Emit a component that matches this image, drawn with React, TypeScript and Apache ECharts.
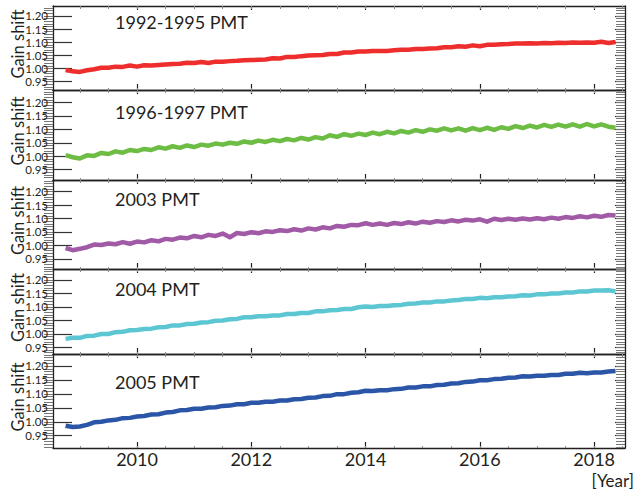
import React, { useEffect, useRef } from "react";
import * as echarts from "echarts";

// ---- data ----
const sampleStart = 2008.75;
const sampleStep = 0.125;
const panelLabels = ["1992-1995 PMT", "1996-1997 PMT", "2003 PMT", "2004 PMT", "2005 PMT"];
const panelColors = ["#ee2d2d", "#6dbd45", "#a15aa6", "#5cc6d3", "#2b55a6"];

const gain1992 = [
  0.994, 0.989, 0.987, 0.993, 0.997, 1.003, 1.003, 1.007, 1.006, 1.011,
  1.007, 1.012, 1.011, 1.013, 1.015, 1.017, 1.018, 1.022, 1.021, 1.025,
  1.021, 1.026, 1.026, 1.028, 1.029, 1.031, 1.032, 1.033, 1.034, 1.039,
  1.038, 1.044, 1.044, 1.047, 1.049, 1.050, 1.051, 1.055, 1.055, 1.061,
  1.061, 1.065, 1.065, 1.067, 1.067, 1.067, 1.069, 1.071, 1.071, 1.074,
  1.074, 1.076, 1.077, 1.081, 1.081, 1.085, 1.083, 1.088, 1.085, 1.090,
  1.090, 1.092, 1.093, 1.095, 1.095, 1.096, 1.095, 1.097, 1.096, 1.098,
  1.097, 1.099, 1.098, 1.099, 1.098, 1.102, 1.097, 1.101,
];
const gain1996 = [
  1.004, 0.996, 0.991, 1.003, 1.001, 1.012, 1.008, 1.018, 1.013, 1.023,
  1.019, 1.027, 1.023, 1.033, 1.028, 1.037, 1.031, 1.040, 1.034, 1.043,
  1.039, 1.047, 1.043, 1.050, 1.046, 1.055, 1.050, 1.058, 1.053, 1.061,
  1.056, 1.064, 1.059, 1.068, 1.062, 1.071, 1.066, 1.078, 1.072, 1.082,
  1.076, 1.084, 1.079, 1.088, 1.082, 1.091, 1.085, 1.094, 1.088, 1.097,
  1.091, 1.100, 1.095, 1.104, 1.096, 1.104, 1.095, 1.105, 1.097, 1.106,
  1.098, 1.108, 1.102, 1.112, 1.105, 1.114, 1.107, 1.117, 1.109, 1.118,
  1.110, 1.119, 1.110, 1.120, 1.111, 1.119, 1.110, 1.106,
];
const gain2003 = [
  0.990, 0.982, 0.987, 0.993, 1.003, 1.001, 1.007, 1.004, 1.012, 1.006,
  1.014, 1.011, 1.019, 1.015, 1.024, 1.021, 1.029, 1.026, 1.035, 1.030,
  1.039, 1.035, 1.044, 1.030, 1.046, 1.042, 1.049, 1.045, 1.052, 1.050,
  1.056, 1.053, 1.060, 1.055, 1.063, 1.059, 1.067, 1.063, 1.072, 1.069,
  1.076, 1.075, 1.082, 1.076, 1.081, 1.076, 1.083, 1.079, 1.086, 1.081,
  1.088, 1.084, 1.090, 1.087, 1.093, 1.089, 1.095, 1.092, 1.097, 1.088,
  1.099, 1.094, 1.099, 1.095, 1.100, 1.096, 1.101, 1.097, 1.103, 1.099,
  1.105, 1.102, 1.108, 1.104, 1.110, 1.106, 1.113, 1.111,
];
const gain2004 = [
  0.981, 0.985, 0.985, 0.992, 0.993, 0.999, 0.999, 1.006, 1.007, 1.013,
  1.014, 1.018, 1.019, 1.024, 1.025, 1.031, 1.031, 1.036, 1.037, 1.042,
  1.043, 1.048, 1.049, 1.054, 1.055, 1.061, 1.061, 1.065, 1.065, 1.068,
  1.068, 1.073, 1.073, 1.077, 1.077, 1.083, 1.083, 1.087, 1.088, 1.092,
  1.092, 1.098, 1.101, 1.099, 1.103, 1.103, 1.106, 1.107, 1.111, 1.112,
  1.116, 1.116, 1.120, 1.120, 1.123, 1.125, 1.129, 1.129, 1.133, 1.132,
  1.135, 1.135, 1.138, 1.139, 1.143, 1.142, 1.146, 1.146, 1.149, 1.149,
  1.153, 1.153, 1.157, 1.157, 1.160, 1.160, 1.161, 1.157,
];
const gain2005 = [
  0.986, 0.981, 0.983, 0.989, 0.998, 1.000, 1.005, 1.007, 1.013, 1.014,
  1.019, 1.021, 1.026, 1.027, 1.033, 1.035, 1.041, 1.042, 1.047, 1.047,
  1.051, 1.052, 1.057, 1.058, 1.063, 1.063, 1.068, 1.068, 1.072, 1.072,
  1.076, 1.076, 1.081, 1.082, 1.086, 1.087, 1.092, 1.093, 1.099, 1.099,
  1.104, 1.106, 1.111, 1.110, 1.113, 1.113, 1.117, 1.118, 1.123, 1.123,
  1.127, 1.127, 1.132, 1.133, 1.137, 1.138, 1.143, 1.144, 1.149, 1.149,
  1.153, 1.154, 1.158, 1.159, 1.163, 1.162, 1.165, 1.165, 1.168, 1.168,
  1.172, 1.172, 1.176, 1.174, 1.177, 1.177, 1.180, 1.182,
];
const panelSeries = [gain1992, gain1996, gain2003, gain2004, gain2005];

const yearTicks = [2010, 2012, 2014, 2016, 2018];
const halfYearTicks = [
  2009, 2009.5, 2010, 2010.5, 2011, 2011.5, 2012, 2012.5, 2013, 2013.5,
  2014, 2014.5, 2015, 2015.5, 2016, 2016.5, 2017, 2017.5, 2018, 2018.5,
];
const gainTicks = [0.95, 1.0, 1.05, 1.1, 1.15, 1.2];
const gainMinorTicks = [
  0.91, 0.92, 0.93, 0.94, 0.95, 0.96, 0.97, 0.98, 0.99, 1.0, 1.01, 1.02,
  1.03, 1.04, 1.05, 1.06, 1.07, 1.08, 1.09, 1.1, 1.11, 1.12, 1.13, 1.14,
  1.15, 1.16, 1.17, 1.18, 1.19, 1.2, 1.21, 1.22, 1.23, 1.24,
];

// ---- layout ----
const X_MIN = 2008.53;
const X_MAX = 2018.54;
const GRID_LEFT = 53;
const GRID_RIGHT = 11;
const panelsLayout = [
  { top: 6, height: 84, min: 0.918, max: 1.238, titleY: 21.5 },
  { top: 90, height: 90, min: 0.911, max: 1.247, titleY: 111.5 },
  { top: 180, height: 89, min: 0.912, max: 1.243, titleY: 199 },
  { top: 269, height: 85, min: 0.925, max: 1.24, titleY: 288.5 },
  { top: 354, height: 94, min: 0.906, max: 1.243, titleY: 381.5 },
];
const FONT = "Lato, 'Noto Sans', sans-serif";
const INK = "#231f20";

export default function App() {
  const ref = useRef<HTMLDivElement>(null);
  useEffect(() => {
    if (!ref.current) return;
    const chart = echarts.init(ref.current, undefined, { renderer: "svg" });
    const grid: any[] = [];
    const xAxis: any[] = [];
    const yAxis: any[] = [];
    const series: any[] = [];
    const graphic: any[] = [];

    panelsLayout.forEach((p, i) => {
      grid.push({
        left: GRID_LEFT,
        right: GRID_RIGHT,
        top: p.top,
        height: p.height,
        containLabel: false,
        outerBoundsMode: "none",
      });
      const xs = halfYearTicks.filter((v) => v >= X_MIN && v <= X_MAX);
      const baseX = {
        gridIndex: i,
        type: "value",
        min: X_MIN,
        max: X_MAX,
        splitLine: { show: false },
        axisLabel: { show: false },
      };
      // order matters: bottom, top, (top->bottom), (bottom->top)
      xAxis.push({
        ...baseX,
        position: "bottom",
        axisLine: { show: true, onZero: false, lineStyle: { color: INK, width: 1.3 } },
        axisTick: { show: true, inside: true, length: 6, customValues: yearTicks, lineStyle: { color: INK, width: 1.2 } },
        axisLabel: {
          show: i === panelsLayout.length - 1,
          customValues: yearTicks,
          formatter: (v: number) => String(Math.round(v)),
          fontSize: 18,
          fontFamily: FONT,
          color: INK,
          margin: 2,
        },
      });
      xAxis.push({
        ...baseX,
        position: "top",
        axisLine: { show: true, onZero: false, lineStyle: { color: INK, width: 1.3 } },
        axisTick: { show: true, inside: true, length: 4, customValues: yearTicks, lineStyle: { color: INK, width: 1.2 } },
      });
      xAxis.push({
        ...baseX,
        position: "top",
        axisLine: { show: false, onZero: false },
        axisTick: { show: true, inside: true, length: 3, customValues: xs, lineStyle: { color: "#8a8a8a", width: 1 } },
      });
      xAxis.push({
        ...baseX,
        position: "bottom",
        axisLine: { show: false, onZero: false },
        axisTick: { show: true, inside: true, length: 2, customValues: xs, lineStyle: { color: "#8a8a8a", width: 1 } },
      });

      const minor = gainMinorTicks.filter((v) => v >= p.min && v <= p.max);
      const baseY = {
        gridIndex: i,
        type: "value",
        min: p.min,
        max: p.max,
        splitLine: { show: false },
        axisLabel: { show: false },
      };
      // order: left, right, (right->left), (left->right)
      yAxis.push({
        ...baseY,
        position: "left",
        axisLine: { show: true, onZero: false, lineStyle: { color: INK, width: 1.3 } },
        axisTick: { show: true, inside: true, length: 19, customValues: gainTicks, lineStyle: { color: "#333", width: 1.2 } },
        axisLabel: {
          show: true,
          customValues: gainTicks,
          formatter: (v: number) => v.toFixed(2),
          fontSize: 11.5,
          fontFamily: FONT,
          color: INK,
          margin: 5,
        },
      });
      yAxis.push({
        ...baseY,
        position: "right",
        axisLine: { show: true, onZero: false, lineStyle: { color: INK, width: 1.3 } },
        axisTick: { show: true, inside: true, length: 10, customValues: gainTicks, lineStyle: { color: "#333", width: 1.2 } },
      });
      yAxis.push({
        ...baseY,
        position: "right",
        axisLine: { show: false, onZero: false },
        axisTick: { show: true, inside: true, length: 9, customValues: minor, lineStyle: { color: "#777", width: 1 } },
      });
      yAxis.push({
        ...baseY,
        position: "left",
        axisLine: { show: false, onZero: false },
        axisTick: { show: true, inside: false, length: 9, customValues: minor, lineStyle: { color: "#777", width: 1 } },
      });

      const vals = panelSeries[i];
      series.push({
        type: "line",
        xAxisIndex: i * 4,
        yAxisIndex: i * 4,
        data: vals.map((v, k) => [sampleStart + k * sampleStep, v]),
        showSymbol: false,
        symbol: "none",
        clip: true,
        silent: true,
        lineStyle: { color: panelColors[i], width: 4.5, join: "round" },
      });

      graphic.push({
        type: "text",
        x: 115,
        y: p.titleY,
        silent: true,
        style: {
          text: panelLabels[i],
          fontSize: 18,
          fontFamily: FONT,
          fill: INK,
          textAlign: "left",
          textVerticalAlign: "middle",
          align: "left",
          verticalAlign: "middle",
        },
      });
      graphic.push({
        type: "text",
        x: 18,
        y: p.top + p.height / 2 - 4,
        rotation: Math.PI / 2,
        silent: true,
        style: {
          text: "Gain shift",
          fontSize: 16.5,
          fontFamily: FONT,
          fill: INK,
          textAlign: "center",
          textVerticalAlign: "middle",
          align: "center",
          verticalAlign: "middle",
        },
      });
    });

    graphic.push({
      type: "text",
      x: 634,
      y: 480,
      silent: true,
      style: {
        text: "[Year]",
        fontSize: 17,
        fontFamily: FONT,
        fill: INK,
        textAlign: "right",
        textVerticalAlign: "middle",
        align: "right",
        verticalAlign: "middle",
      },
    });

    chart.setOption({
      animation: false,
      backgroundColor: "#ffffff",
      grid,
      xAxis,
      yAxis,
      series,
      graphic,
    });
    return () => chart.dispose();
  }, []);
  return (
    <div
      ref={ref}
      style={{ position: "fixed", left: 0, top: 0, width: 636, height: 492 }}
    />
  );
}
